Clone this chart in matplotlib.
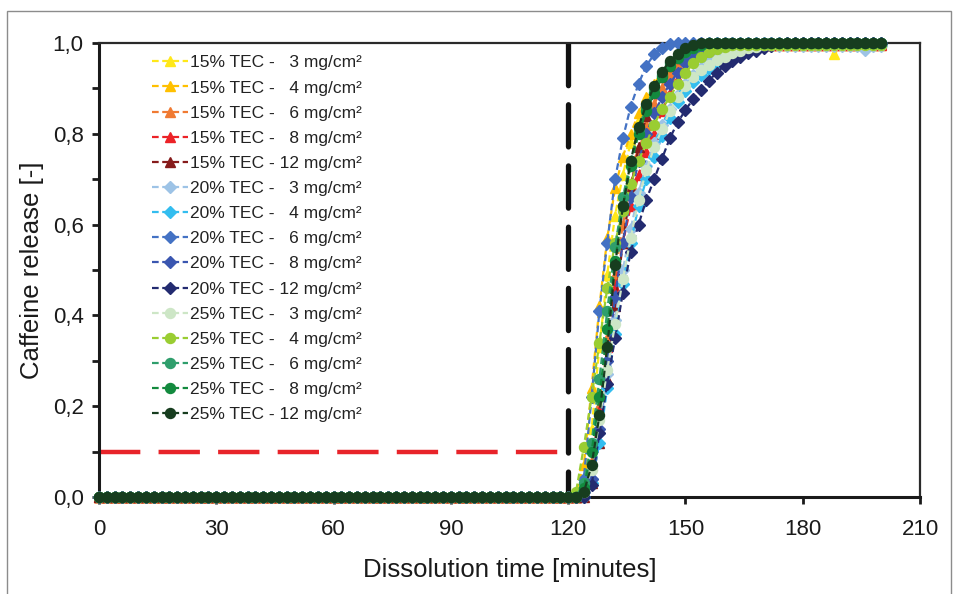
import numpy as np
import matplotlib
matplotlib.use("Agg")
import matplotlib.pyplot as plt
from matplotlib.ticker import FuncFormatter, MultipleLocator
from matplotlib.patches import Rectangle

plt.rcParams['font.family'] = ['Liberation Sans', 'DejaVu Sans']

# ---- data ----
time = list(range(0, 202, 2))          # minutes
onset = 122                            # first time of the listed rise values

labels = [
    "15% TEC -   3 mg/cm²", "15% TEC -   4 mg/cm²", "15% TEC -   6 mg/cm²",
    "15% TEC -   8 mg/cm²", "15% TEC - 12 mg/cm²",
    "20% TEC -   3 mg/cm²", "20% TEC -   4 mg/cm²", "20% TEC -   6 mg/cm²",
    "20% TEC -   8 mg/cm²", "20% TEC - 12 mg/cm²",
    "25% TEC -   3 mg/cm²", "25% TEC -   4 mg/cm²", "25% TEC -   6 mg/cm²",
    "25% TEC -   8 mg/cm²", "25% TEC - 12 mg/cm²",
]

s15_3 = [0.0, 0.03, 0.15, 0.33, 0.49, 0.62, 0.71, 0.78, 0.83, 0.87, 0.90, 0.925, 0.945, 0.96, 0.972, 0.98, 0.986, 0.99, 0.993, 0.995]
s15_4 = [0.01, 0.07, 0.24, 0.42, 0.57, 0.68, 0.75, 0.80, 0.845, 0.88, 0.91, 0.935, 0.955, 0.97, 0.98, 0.988, 0.993, 0.996, 0.998, 1.0]
s15_6 = [0.0, 0.02, 0.08, 0.20, 0.35, 0.49, 0.60, 0.69, 0.76, 0.82, 0.865, 0.90, 0.93, 0.95, 0.965, 0.975, 0.983, 0.99, 0.994, 0.997]
s15_8 = [0.0, 0.01, 0.07, 0.19, 0.33, 0.46, 0.56, 0.64, 0.71, 0.76, 0.80, 0.85, 0.89, 0.92, 0.945, 0.96, 0.972, 0.98, 0.987, 0.99, 0.993, 0.995]
s15_12 = [0.0, 0.0, 0.03, 0.12, 0.26, 0.42, 0.56, 0.68, 0.77, 0.84, 0.89, 0.925, 0.95, 0.968, 0.98, 0.99, 0.995, 1.0]
s20_3 = [0.0, 0.01, 0.04, 0.14, 0.27, 0.39, 0.50, 0.59, 0.67, 0.73, 0.78, 0.82, 0.855, 0.885, 0.91, 0.93, 0.945, 0.958, 0.968, 0.976, 0.982, 0.987, 0.99, 0.993]
s20_4 = [0.0, 0.0, 0.03, 0.12, 0.24, 0.36, 0.47, 0.56, 0.64, 0.70, 0.75, 0.795, 0.835, 0.87, 0.895, 0.915, 0.93, 0.943, 0.955, 0.965, 0.973, 0.98, 0.986, 0.99, 0.994, 0.997]
s20_6 = [0.0, 0.04, 0.22, 0.41, 0.56, 0.70, 0.79, 0.86, 0.91, 0.95, 0.975, 0.99, 0.998, 1.0]
s20_8 = [0.0, 0.01, 0.04, 0.15, 0.30, 0.44, 0.56, 0.66, 0.74, 0.80, 0.845, 0.88, 0.91, 0.935, 0.955, 0.968, 0.978, 0.985, 0.99, 0.994, 0.997]
s20_12 = [0.0, 0.0, 0.026, 0.14, 0.25, 0.35, 0.45, 0.54, 0.60, 0.655, 0.70, 0.745, 0.79, 0.825, 0.852, 0.877, 0.896, 0.917, 0.935, 0.95, 0.961, 0.97, 0.977, 0.983, 0.988, 0.993, 0.997, 1.0]
s25_3 = [0.0, 0.01, 0.06, 0.17, 0.28, 0.38, 0.48, 0.57, 0.655, 0.72, 0.77, 0.81, 0.85, 0.88, 0.905, 0.925, 0.94, 0.952, 0.962, 0.97, 0.977, 0.983, 0.988, 0.992, 0.995]
s25_4 = [0.01, 0.11, 0.22, 0.34, 0.46, 0.56, 0.63, 0.69, 0.74, 0.78, 0.82, 0.855, 0.88, 0.91, 0.935, 0.955, 0.97, 0.98, 0.987, 0.992, 0.995]
s25_6 = [0.0, 0.03, 0.12, 0.26, 0.41, 0.55, 0.66, 0.74, 0.81, 0.86, 0.90, 0.93, 0.955, 0.97, 0.98, 0.99, 0.995, 1.0]
s25_8 = [0.0, 0.02, 0.10, 0.22, 0.37, 0.52, 0.64, 0.73, 0.80, 0.85, 0.89, 0.925, 0.95, 0.968, 0.98, 0.99, 0.995, 1.0]
s25_12 = [0.0, 0.01, 0.07, 0.18, 0.33, 0.51, 0.64, 0.74, 0.815, 0.865, 0.905, 0.937, 0.96, 0.975, 0.988, 0.995, 1.0]

rises = [s15_3, s15_4, s15_6, s15_8, s15_12,
         s20_3, s20_4, s20_6, s20_8, s20_12,
         s25_3, s25_4, s25_6, s25_8, s25_12]

# isolated dips read on the plateau: (series index, time, value)
dips = [(0, 188, 0.975), (5, 196, 0.985)]

colors = ["#FFE81A", "#FFC000", "#F07A32", "#EC2227", "#861B1B",
          "#9DC3E6", "#33BDEF", "#4472C4", "#3A56B0", "#232B70",
          "#CDE6C6", "#9ACD32", "#2F9E6C", "#138A3E", "#173D1F"]
markers = ["^"] * 5 + ["D"] * 5 + ["o"] * 5
msizes = [7.5] * 5 + [6] * 5 + [7.2] * 5

lag_time = 120
threshold = 0.1


def build(rise):
    vals = []
    for t in time:
        k = (t - onset) // 2
        if t < onset:
            vals.append(0.0)
        elif k < len(rise):
            vals.append(rise[k])
        else:
            vals.append(rise[-1])
    return vals


W, H = 955, 594
fig = plt.figure(figsize=(W / 100, H / 100), dpi=100)
ax = fig.add_axes([99 / W, 1 - 497 / H, (920 - 99) / W, (497 - 43) / H])

# figure frame (bottom edge lies outside the image)
fig.patches.append(Rectangle((7 / W, -10 / H), (951 - 7) / W, (583 + 10) / H,
                             transform=fig.transFigure, fill=False,
                             edgecolor="#8c8c8c", linewidth=1.0, zorder=0))

ax.plot([0, lag_time], [threshold, threshold], color="#E8242A", lw=3.2,
        linestyle=(0, (9.3, 4.1)), dash_capstyle="butt", zorder=1)
ax.plot([lag_time, lag_time], [1.0, 0.0], color="#111111", lw=3.8,
        linestyle=(0, (8.0, 3.6)), dash_capstyle="round", zorder=1)

for i, (lab, rise) in enumerate(zip(labels, rises)):
    y = build(rise)
    for (si, tt, vv) in dips:
        if si == i:
            y[time.index(tt)] = vv
    ax.plot(time, y, linestyle=(0, (3, 1.6)), lw=1.6, color=colors[i],
            marker=markers[i], markersize=msizes[i], markerfacecolor=colors[i],
            markeredgecolor=colors[i], label=lab, zorder=3 + i, clip_on=False)

ax.set_xlim(0, 210)
ax.set_ylim(0, 1.0)
ax.set_xticks(range(0, 211, 30))
ax.yaxis.set_major_locator(MultipleLocator(0.2))
ax.yaxis.set_minor_locator(MultipleLocator(0.1))
ax.yaxis.set_major_formatter(FuncFormatter(lambda v, p: f"{v:.1f}".replace(".", ",")))

for s in ["left", "bottom"]:
    ax.spines[s].set_linewidth(2.2)
    ax.spines[s].set_color("#1a1a1a")
for s in ["top", "right"]:
    ax.spines[s].set_linewidth(1.6)
    ax.spines[s].set_color("#2a2a2a")

ax.tick_params(axis="both", which="major", direction="out", length=5, width=2,
               labelsize=16, colors="#1a1a1a")
ax.tick_params(axis="x", which="major", pad=11)
ax.tick_params(axis="y", which="major", pad=6)
ax.tick_params(axis="y", which="minor", direction="out", length=5, width=2, colors="#1a1a1a")

ax.set_xlabel("Dissolution time [minutes]", fontsize=18.5, color="#1a1a1a", labelpad=13)
ax.set_ylabel("Caffeine release [-]", fontsize=18.5, color="#1a1a1a", labelpad=6)

leg = ax.legend(loc="upper left", bbox_to_anchor=(0.052, 0.996), frameon=False,
                fontsize=12.5, handlelength=2.07, handletextpad=0.12,
                labelspacing=0.575, borderaxespad=0.2)
for t in leg.get_texts():
    t.set_color("#222222")

fig.savefig("out.png", dpi=100)
